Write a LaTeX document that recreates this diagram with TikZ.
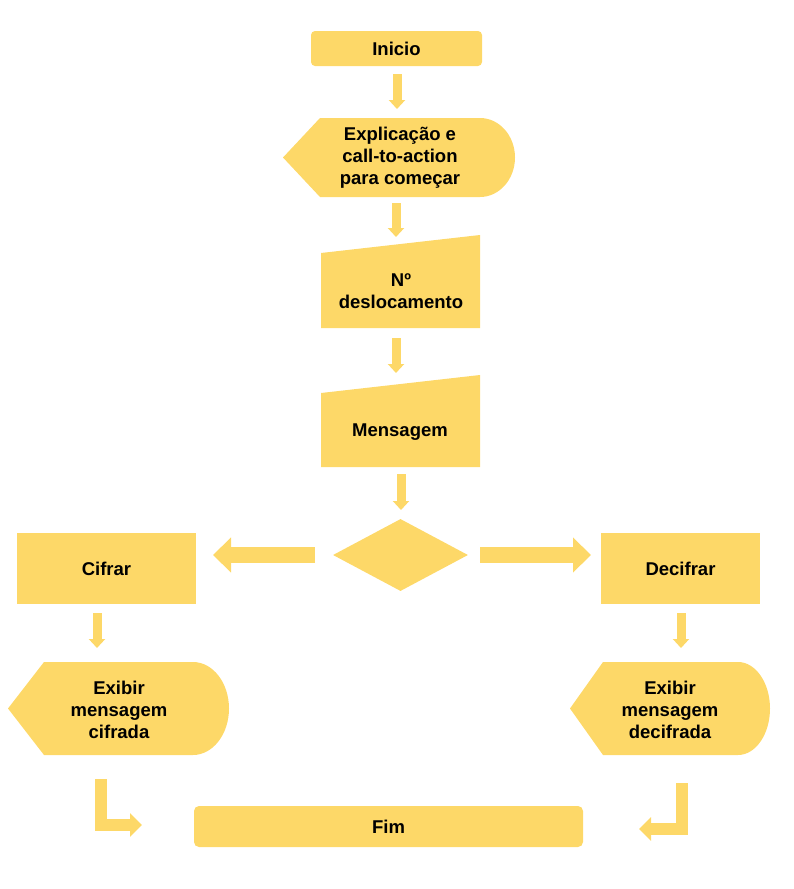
\documentclass[tikz,border=0pt]{standalone}
\usepackage{fontspec}
\setmainfont{Liberation Sans}
\usetikzlibrary{arrows.meta,shapes.geometric}
\definecolor{fy}{RGB}{253,216,104}
\begin{document}
\begin{tikzpicture}[x=1pt,y=-1pt,
  every node/.style={font=\bfseries\fontsize{18.5}{22}\selectfont, align=center, inner sep=0pt},
  boxn/.style={fill=fy, draw=none, minimum width=#1},
  shp/.style={fill=fy, draw=none},
  lbl/.style={text=black},
  blk/.style={draw=fy, line width=9pt, -{Triangle[width=16pt,length=9pt]}},
  hblk/.style={draw=fy, line width=16pt, -{Triangle[width=34pt,length=18pt]}},
  eblk/.style={draw=fy, line width=12pt, miter limit=10, -{Triangle[width=23pt,length=12pt]}}]
\useasboundingbox (0,0) rectangle (793,889);
% terminals and processes
\node[boxn=171pt, minimum height=35pt, rounded corners=4pt] (ini) at (396.5,48.5) {Inicio};
\node[boxn=179pt, minimum height=71pt] (cif) at (106.5,568.5) {Cifrar};
\node[boxn=159pt, minimum height=71pt] (dcf) at (680.5,568.5) {Decifrar};
\node[boxn=389pt, minimum height=41pt, rounded corners=5pt] (fim) at (388.5,826.5) {Fim};
% display shapes
\path[shp] (283,157.5) -- (320,118) -- (480,118) arc(-90:90:35 and 39.5) -- (320,197) -- cycle;
\node[lbl] (expl) at (400,158) {Explicação e\\call-to-action\\para começar};
\path[shp] (8,708.5) -- (44,662) -- (193,662) arc(-90:90:36 and 46.5) -- (44,755) -- cycle;
\node[lbl] (exc) at (119,710) {Exibir\\mensagem\\cifrada};
\path[shp] (570,708.5) -- (603,662) -- (738,662) arc(-90:90:32 and 46.5) -- (603,755) -- cycle;
\node[lbl] (exd) at (670,710) {Exibir\\mensagem\\decifrada};
% manual inputs
\path[shp] (321,253) -- (480,235) -- (480,328) -- (321,328) -- cycle;
\node[lbl] (desl) at (401,291) {Nº\\deslocamento};
\path[shp] (321,393) -- (480,375) -- (480,467) -- (321,467) -- cycle;
\node[lbl] (msg) at (400,432) {Mensagem};
% decision
\node[shape=diamond, fill=fy, minimum width=135pt, minimum height=72pt] (dec) at (400.5,555) {};
% arrow ends
\coordinate (a1s) at (397,74);  \coordinate (a1e) at (397,109);
\coordinate (a2s) at (396,203); \coordinate (a2e) at (396,237);
\coordinate (a3s) at (396,338); \coordinate (a3e) at (396,373);
\coordinate (a4s) at (401,474); \coordinate (a4e) at (401,510);
\coordinate (a5s) at (315,555); \coordinate (a5e) at (213,555);
\coordinate (a6s) at (480,555); \coordinate (a6e) at (591,555);
\coordinate (a7s) at (97,613);  \coordinate (a7e) at (97,648);
\coordinate (a8s) at (681,613); \coordinate (a8e) at (681,648);
\coordinate (a9s) at (100.5,779); \coordinate (a9c) at (100.5,825); \coordinate (a9e) at (142,825);
\coordinate (a10s) at (682,783); \coordinate (a10c) at (682,829); \coordinate (a10e) at (639,829);
\draw[blk] (a1s) -- (a1e);
\draw[blk] (a2s) -- (a2e);
\draw[blk] (a3s) -- (a3e);
\draw[blk] (a4s) -- (a4e);
\draw[hblk] (a5s) -- (a5e);
\draw[hblk] (a6s) -- (a6e);
\draw[blk] (a7s) -- (a7e);
\draw[blk] (a8s) -- (a8e);
\draw[eblk] (a9s) -- (a9c) -- (a9e);
\draw[eblk] (a10s) -- (a10c) -- (a10e);
\end{tikzpicture}
\end{document}
